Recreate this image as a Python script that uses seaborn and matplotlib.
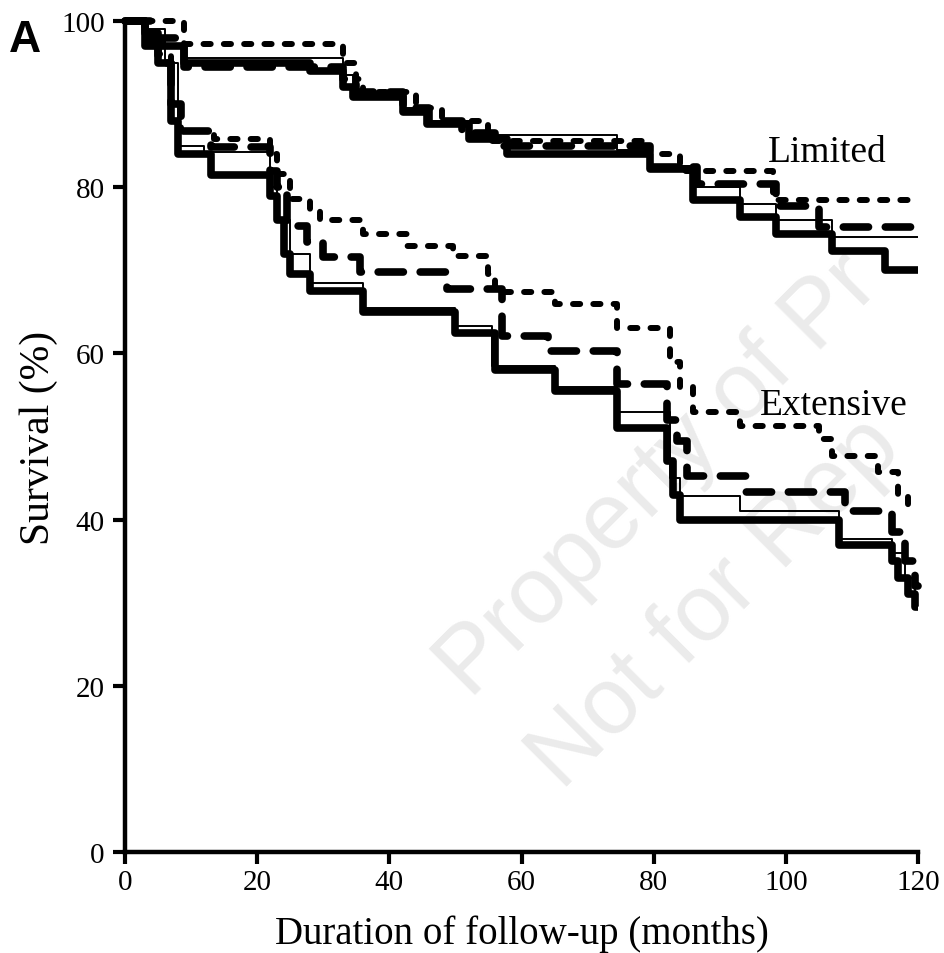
import matplotlib
matplotlib.use("Agg")
import matplotlib.pyplot as plt
import pandas as pd
import seaborn as sns

# ---------------- data (months, survival %) ----------------
lim_thick_t = [0, 3, 5, 9, 28, 33, 34.5, 42, 45.7, 52, 57.8, 79.5, 86, 93, 98.5, 107, 115]
lim_thick_s = [100, 98.5, 97, 95, 94, 92, 90.9, 89, 87.6, 85.8, 84, 82.2, 78.4, 76.4, 74.4, 72.3, 70]

lim_thin_t = [0, 3, 6, 9, 33, 34.5, 42, 45.7, 52, 74.5, 79.5, 86, 93, 98.5, 107]
lim_thin_s = [100, 99, 97, 95.5, 93.5, 91.2, 89.5, 88, 86.3, 84.5, 82.5, 80, 78, 76, 74]

lim_dash_t = [0, 4, 9, 33, 35, 42, 46, 51, 56, 79.5, 86.5, 98.5, 105]
lim_dash_s = [100, 98, 94.5, 93, 91.5, 89.5, 88, 86.5, 85, 82.4, 80.4, 77.7, 75.2]

lim_dot_t = [0, 9, 33, 35, 36, 44, 48, 55, 79, 84, 98]
lim_dot_s = [100, 97.2, 95, 93, 91.5, 89.5, 88, 85.5, 84, 82, 78.5]

ext_thick_t = [0, 3, 5, 7, 8, 13, 22, 23, 24, 25, 28, 36, 50, 56, 65, 74.5, 82, 83, 84,
               108, 116, 117, 118.5, 119.5]
ext_thick_s = [100, 97, 95, 88, 84, 81.5, 79, 76, 72, 69.5, 67.5, 65, 62.5, 58, 55.5, 51, 47, 43, 40,
               37, 35, 33, 31, 29.5]

ext_thin_t = [0, 3, 6, 8, 12, 22, 23, 25, 28, 36, 50, 55.5, 65, 74.5, 82.5, 84, 93, 108, 116, 118, 119.5]
ext_thin_s = [100, 97.5, 95, 85, 84.2, 80, 76, 72, 68.5, 65.5, 63.3, 58.5, 56, 53, 45, 42.8, 41, 37.7, 36, 33, 31]

ext_dash_t = [0, 3, 5, 7, 8.5, 13, 22, 23, 24.5, 27.5, 30, 35.5, 48.7, 57, 64, 74.5, 82, 83.5, 85, 94,
              109, 116, 118, 119.5]
ext_dash_s = [100, 97.5, 95, 90, 86.8, 84.8, 82, 80, 75.3, 73.4, 71.6, 69.8, 67.7, 62.1, 60.3, 56.3, 52, 49.5,
              45.3, 43.3, 41, 38.5, 35, 32]

ext_dot_t = [0, 3, 5, 7, 8.5, 13.5, 22, 23, 25, 28, 29.5, 36, 42.7, 49.6, 55, 56, 65, 74.5, 82.5, 84, 86,
             93, 105, 107, 114, 117, 118.5]
ext_dot_s = [100, 98, 96, 90, 86.8, 85.8, 84, 81.6, 78.6, 77.1, 76, 74.4, 72.9, 71.7, 69.5, 67.4, 66, 63, 59,
             56, 53, 51.3, 49.7, 47.7, 45.7, 43, 41.7]

x_ticks = [0, 20, 40, 60, 80, 100, 120]
y_ticks = [0, 20, 40, 60, 80, 100]
x_label = "Duration of follow-up (months)"
y_label = "Survival (%)"
watermark = ["Property of Pr", "Not for Rep"]
END_T = 120

# ---------------- style ----------------
sns.set_style("ticks")
plt.rcParams['font.family'] = ['Liberation Serif', 'DejaVu Serif']
plt.rcParams.update({'text.color': 'black', 'axes.labelcolor': 'black',
                     'axes.edgecolor': 'black', 'xtick.color': 'black',
                     'ytick.color': 'black'})

fig = plt.figure(figsize=(9.45, 9.54), dpi=100)
ax = fig.add_axes([125 / 945, 101 / 954, 793 / 945, 831 / 954])
ax.patch.set_alpha(0)

# faint watermark, behind the curves
wm = dict(color='#ebebeb', fontsize=68, rotation=45, rotation_mode='anchor',
          ha='left', va='baseline', family=['Liberation Sans', 'DejaVu Sans'],
          zorder=0.5, transform=fig.transFigure, clip_on=False)
ax.text(470 / 945, 1 - 700 / 954, watermark[0], **wm)
ax.text(562 / 945, 1 - 792 / 954, watermark[1], **wm)

styles = {
    'thick': dict(lw=5.5, linestyle='-', solid_capstyle='butt', zorder=3),
    'dash': dict(lw=5.5, linestyle=(0, (3.3, 2.2)), dash_capstyle='round', zorder=4),
    'dot': dict(lw=4.3, linestyle=(0, (1.2, 2.2)), dash_capstyle='round', zorder=5),
    'thin': dict(lw=1.4, linestyle='-', solid_capstyle='butt', zorder=6),
}

curves = [
    (lim_thick_t, lim_thick_s, 'thick'), (ext_thick_t, ext_thick_s, 'thick'),
    (lim_dash_t, lim_dash_s, 'dash'), (ext_dash_t, ext_dash_s, 'dash'),
    (lim_dot_t, lim_dot_s, 'dot'), (ext_dot_t, ext_dot_s, 'dot'),
    (lim_thin_t, lim_thin_s, 'thin'), (ext_thin_t, ext_thin_s, 'thin'),
]

for t, s, st in curves:
    df = pd.DataFrame({'t': list(t) + [END_T], 's': list(s) + [s[-1]]})
    sns.lineplot(data=df, x='t', y='s', ax=ax, estimator=None, errorbar=None, sort=False,
                 drawstyle='steps-post', color='black', clip_on=False, **styles[st])

ax.set_xlim(0, 120)
ax.set_ylim(0, 100)
ax.set_xticks(x_ticks)
ax.set_yticks(y_ticks)
sns.despine(ax=ax)
for side in ('left', 'bottom'):
    ax.spines[side].set_linewidth(3.2)
ax.tick_params(direction='out', length=8.5, width=3, labelsize=21, colors='black')
ax.tick_params(axis='y', pad=6)
ax.tick_params(axis='x', pad=4)
ax.set_xlabel(x_label, fontsize=28, labelpad=14)
ax.set_ylabel(y_label, fontsize=30, labelpad=2)

ax.text(97.3, 83.2, "Limited", fontsize=27, ha='left', va='baseline', zorder=7)
ax.text(96.1, 52.7, "Extensive", fontsize=27, ha='left', va='baseline', zorder=7)

fig.text(9 / 945, 1 - 52 / 954, "A", fontsize=32, fontweight='bold',
         family=['Liberation Sans', 'DejaVu Sans'], ha='left', va='baseline')

fig.savefig("out.png", dpi=100, facecolor='white')
